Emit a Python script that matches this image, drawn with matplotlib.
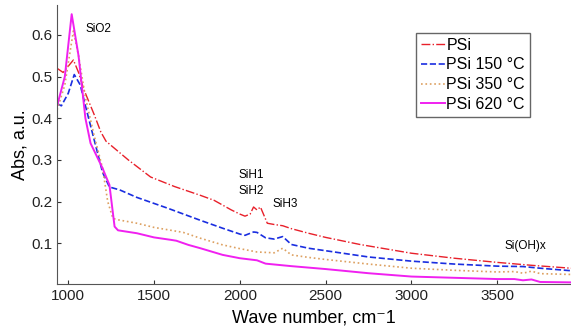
import matplotlib
matplotlib.use("Agg")
import matplotlib.pyplot as plt

plt.rcParams['font.family'] = ['Liberation Sans', 'DejaVu Sans']

# Datos (numero de onda, absorbancia)
wn_psi = [935, 970, 1000, 1030, 1060, 1090, 1150, 1190, 1220, 1350, 1480, 1620, 1770, 1850, 1950, 2000,
          2030, 2060, 2080, 2100, 2120, 2160, 2200, 2250, 2300, 2400, 2500, 2700, 3000, 3250, 3500,
          3700, 3930]
abs_psi = [0.52, 0.51, 0.525, 0.54, 0.51, 0.47, 0.41, 0.367, 0.345, 0.30, 0.259, 0.236, 0.215, 0.203, 0.18, 0.17,
           0.165, 0.17, 0.187, 0.18, 0.187, 0.148, 0.145, 0.142, 0.135, 0.124, 0.114, 0.097, 0.076, 0.064, 0.054,
           0.047, 0.04]

wn_150 = [935, 960, 1000, 1035, 1070, 1100, 1150, 1200, 1240, 1300, 1400, 1580, 1770, 1900, 2000,
          2030, 2080, 2100, 2150, 2200, 2250, 2300, 2400, 2500, 2750, 3000, 3250, 3500, 3650, 3750, 3930]
abs_150 = [0.435, 0.43, 0.46, 0.505, 0.48, 0.43, 0.35, 0.27, 0.235, 0.228, 0.21, 0.184, 0.155, 0.136, 0.122,
           0.119, 0.127, 0.126, 0.113, 0.11, 0.116, 0.097, 0.088, 0.082, 0.067, 0.057, 0.05, 0.045, 0.044, 0.04, 0.034]

wn_350 = [935, 980, 1030, 1060, 1100, 1150, 1200, 1230, 1260, 1280, 1400, 1500, 1670, 1770, 1900, 2000,
          2100, 2200, 2250, 2300, 2400, 2500, 2750, 3000, 3250, 3500, 3600, 3650, 3700, 3750, 3930]
abs_350 = [0.42, 0.48, 0.61, 0.55, 0.45, 0.36, 0.28, 0.2, 0.16, 0.157, 0.148, 0.138, 0.126, 0.112, 0.096, 0.087,
           0.079, 0.077, 0.088, 0.072, 0.066, 0.061, 0.05, 0.04, 0.035, 0.031, 0.032, 0.028, 0.033, 0.027, 0.025]

wn_620 = [935, 980, 1020, 1060, 1100, 1130, 1200, 1240, 1270, 1290, 1400, 1500, 1600, 1630, 1700, 1770,
          1900, 2000, 2100, 2150, 2300, 2500, 2750, 3000, 3250, 3500, 3600, 3650, 3700, 3750, 3930]
abs_620 = [0.43, 0.5, 0.65, 0.55, 0.4, 0.34, 0.28, 0.24, 0.14, 0.131, 0.124, 0.114, 0.108, 0.106, 0.096, 0.088,
           0.072, 0.064, 0.059, 0.051, 0.045, 0.038, 0.028, 0.02, 0.017, 0.014, 0.014, 0.011, 0.013, 0.007, 0.006]

x_ticks = [1000, 1500, 2000, 2500, 3000, 3500]
y_ticks = [0.1, 0.2, 0.3, 0.4, 0.5, 0.6]

fig = plt.figure(figsize=(5.71, 3.33), dpi=100)
ax = fig.add_axes([0.1, 0.147, 0.9, 0.838])

ax.plot(wn_psi, abs_psi, color='#e8202a', linestyle='-.', linewidth=1.0, label='PSi')
ax.plot(wn_150, abs_150, color='#1a2ee0', linestyle='--', linewidth=1.2, label='PSi 150 °C')
ax.plot(wn_350, abs_350, color='#dda060', linestyle=':', linewidth=1.2, label='PSi 350 °C')
ax.plot(wn_620, abs_620, color='#f020f0', linestyle='-', linewidth=1.4, label='PSi 620 °C')

# Etiquetas de los picos
ax.text(1100, 0.614, 'SiO2', fontsize=8.5, va='center')
ax.text(1995, 0.245, 'SiH1\nSiH2', fontsize=8.5, va='center', linespacing=1.4)
ax.text(2190, 0.194, 'SiH3', fontsize=8.5, va='center')
ax.text(3540, 0.093, 'Si(OH)x', fontsize=8.5, va='center')

ax.set_xlim(935, 3930)
ax.set_ylim(0.002, 0.672)
ax.set_xticks(x_ticks)
ax.set_yticks(y_ticks)
ax.tick_params(direction='in', length=3, labelsize=11, colors='#333333')
for lbl in ax.get_xticklabels() + ax.get_yticklabels():
    lbl.set_color('#222222')
ax.spines['top'].set_visible(False)
ax.spines['right'].set_visible(False)
ax.spines['left'].set_color('#555555')
ax.spines['bottom'].set_color('#555555')

ax.set_xlabel('Wave number, cm⁻1', fontsize=13, labelpad=5)
ax.set_ylabel('Abs, a.u.', fontsize=13, labelpad=2)

leg = ax.legend(loc='upper right', bbox_to_anchor=(0.92, 0.9), fontsize=11.5, handlelength=1.5,
                handletextpad=0.1, borderpad=0.3, labelspacing=0.3, borderaxespad=0,
                fancybox=False, framealpha=1)
leg.get_frame().set_edgecolor('#666666')

plt.savefig('out.png', dpi=100)
plt.close()
